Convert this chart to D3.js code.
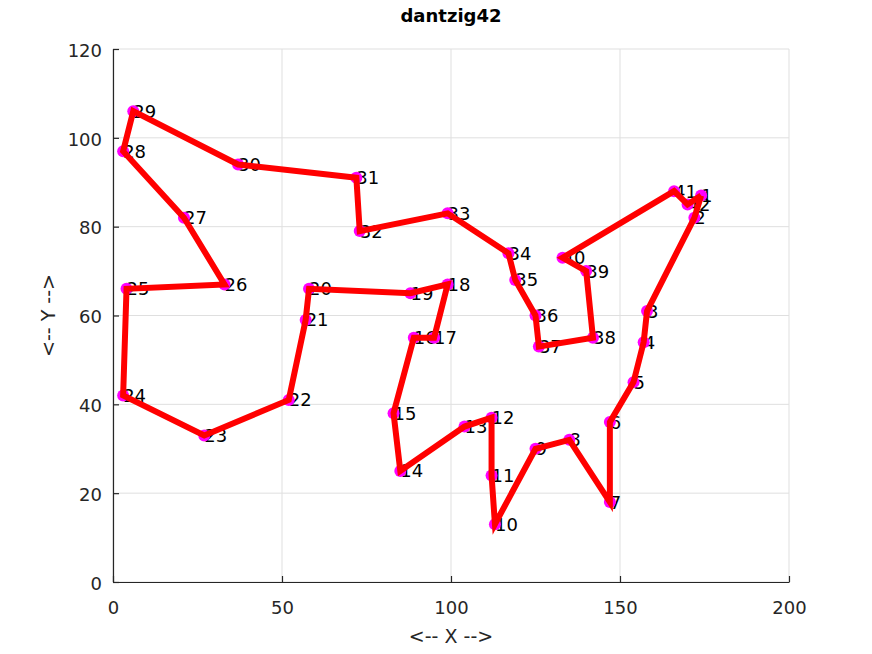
<!DOCTYPE html>
<html>
<head>
<meta charset="utf-8">
<script src="https://cdn.jsdelivr.net/npm/d3@7"></script>
<style>
  body { margin: 0; background: #fff; }
  text { font-family: "DejaVu Sans", sans-serif; }
</style>
</head>
<body>
<div id="chart"></div>
<script>
// city coordinates of the dantzig42 tour, in visiting order (label = index + 1)
var cityX = [174, 172, 158, 157, 154, 147, 147, 135, 125, 113, 112, 112, 104, 85,
  83, 89, 95, 99, 88, 58, 57, 52, 27, 3, 4, 33, 21, 3, 6, 37, 72, 73, 99, 117,
  119, 125, 126, 142, 140, 133, 166, 170];
var cityY = [87, 82, 61, 54, 45, 36, 18, 32, 30, 13, 24, 37, 35, 25,
  38, 55, 55, 67, 65, 66, 59, 41, 33, 42, 66, 67, 82, 97, 106, 94, 91, 79, 83, 74,
  68, 60, 53, 55, 70, 73, 88, 85];
var xTicks = [0, 50, 100, 150, 200];
var yTicks = [0, 20, 40, 60, 80, 100, 120];

var width = 872, height = 654;
var margin = { left: 113, right: 83, top: 49, bottom: 72 };

var cities = cityX.map((x, i) => ({ x: x, y: cityY[i], label: String(i + 1) }));

var x = d3.scaleLinear().domain([0, 200]).range([margin.left, width - margin.right]);
var y = d3.scaleLinear().domain([0, 120]).range([height - margin.bottom, margin.top]);

var svg = d3.select("#chart")
  .append("svg")
  .attr("width", width)
  .attr("height", height);

// grid
svg.append("g")
  .selectAll("line.gx")
  .data(xTicks)
  .enter()
  .append("line")
  .attr("x1", (d) => x(d)).attr("x2", (d) => x(d))
  .attr("y1", y(0)).attr("y2", y(120))
  .attr("stroke", "#dfdfdf").attr("stroke-width", 1);
svg.append("g")
  .selectAll("line.gy")
  .data(yTicks)
  .enter()
  .append("line")
  .attr("x1", x(0)).attr("x2", x(200))
  .attr("y1", (d) => y(d)).attr("y2", (d) => y(d))
  .attr("stroke", "#dfdfdf").attr("stroke-width", 1);

// axes (ticks point inwards)
var axisColor = "#262626";
var xAxis = svg.append("g")
  .attr("transform", "translate(0," + y(0) + ")")
  .call(d3.axisBottom(x).tickValues(xTicks).tickSizeInner(-6).tickSizeOuter(0).tickPadding(19));
var yAxis = svg.append("g")
  .attr("transform", "translate(" + x(0) + ",0)")
  .call(d3.axisLeft(y).tickValues(yTicks).tickSizeInner(-6).tickSizeOuter(0).tickPadding(11));

[xAxis, yAxis].forEach((g) => {
  g.select(".domain").attr("stroke", axisColor).attr("stroke-width", 1.2);
  g.selectAll(".tick line").attr("stroke", axisColor).attr("stroke-width", 1.2);
  g.selectAll(".tick text")
    .attr("fill", axisColor)
    .style("font-family", "'DejaVu Sans', sans-serif")
    .style("font-size", "18px");
});
yAxis.selectAll(".tick text").attr("dy", "0.4em");

// city labels
svg.append("g")
  .selectAll("text")
  .data(cities)
  .enter()
  .append("text")
  .attr("x", (d) => x(d.x))
  .attr("y", (d) => y(d.y))
  .attr("dy", "0.36em")
  .attr("fill", "#000")
  .style("font-size", "18px")
  .text((d) => d.label);

// city markers
svg.append("g")
  .selectAll("circle")
  .data(cities)
  .enter()
  .append("circle")
  .attr("cx", (d) => x(d.x))
  .attr("cy", (d) => y(d.y))
  .attr("r", 6)
  .attr("fill", "#ff00ff");

// closed tour
var line = d3.line().x((d) => x(d.x)).y((d) => y(d.y));
svg.append("path")
  .datum(cities.concat([cities[0]]))
  .attr("d", line)
  .attr("fill", "none")
  .attr("stroke", "#ff0000")
  .attr("stroke-width", 6)
  .attr("stroke-linejoin", "miter");

// title and axis labels
svg.append("text")
  .attr("x", (x(0) + x(200)) / 2)
  .attr("y", 22)
  .attr("text-anchor", "middle")
  .attr("fill", "#000")
  .style("font-size", "18px")
  .style("font-weight", "bold")
  .text("dantzig42");

svg.append("text")
  .attr("x", (x(0) + x(200)) / 2)
  .attr("y", 643)
  .attr("text-anchor", "middle")
  .attr("fill", axisColor)
  .style("font-size", "19px")
  .text("<-- X -->");

svg.append("text")
  .attr("transform", "translate(55," + (y(0) + y(120)) / 2 + ") rotate(-90)")
  .attr("text-anchor", "middle")
  .attr("fill", axisColor)
  .style("font-size", "19px")
  .text("<-- Y -->");
</script>
</body>
</html>
